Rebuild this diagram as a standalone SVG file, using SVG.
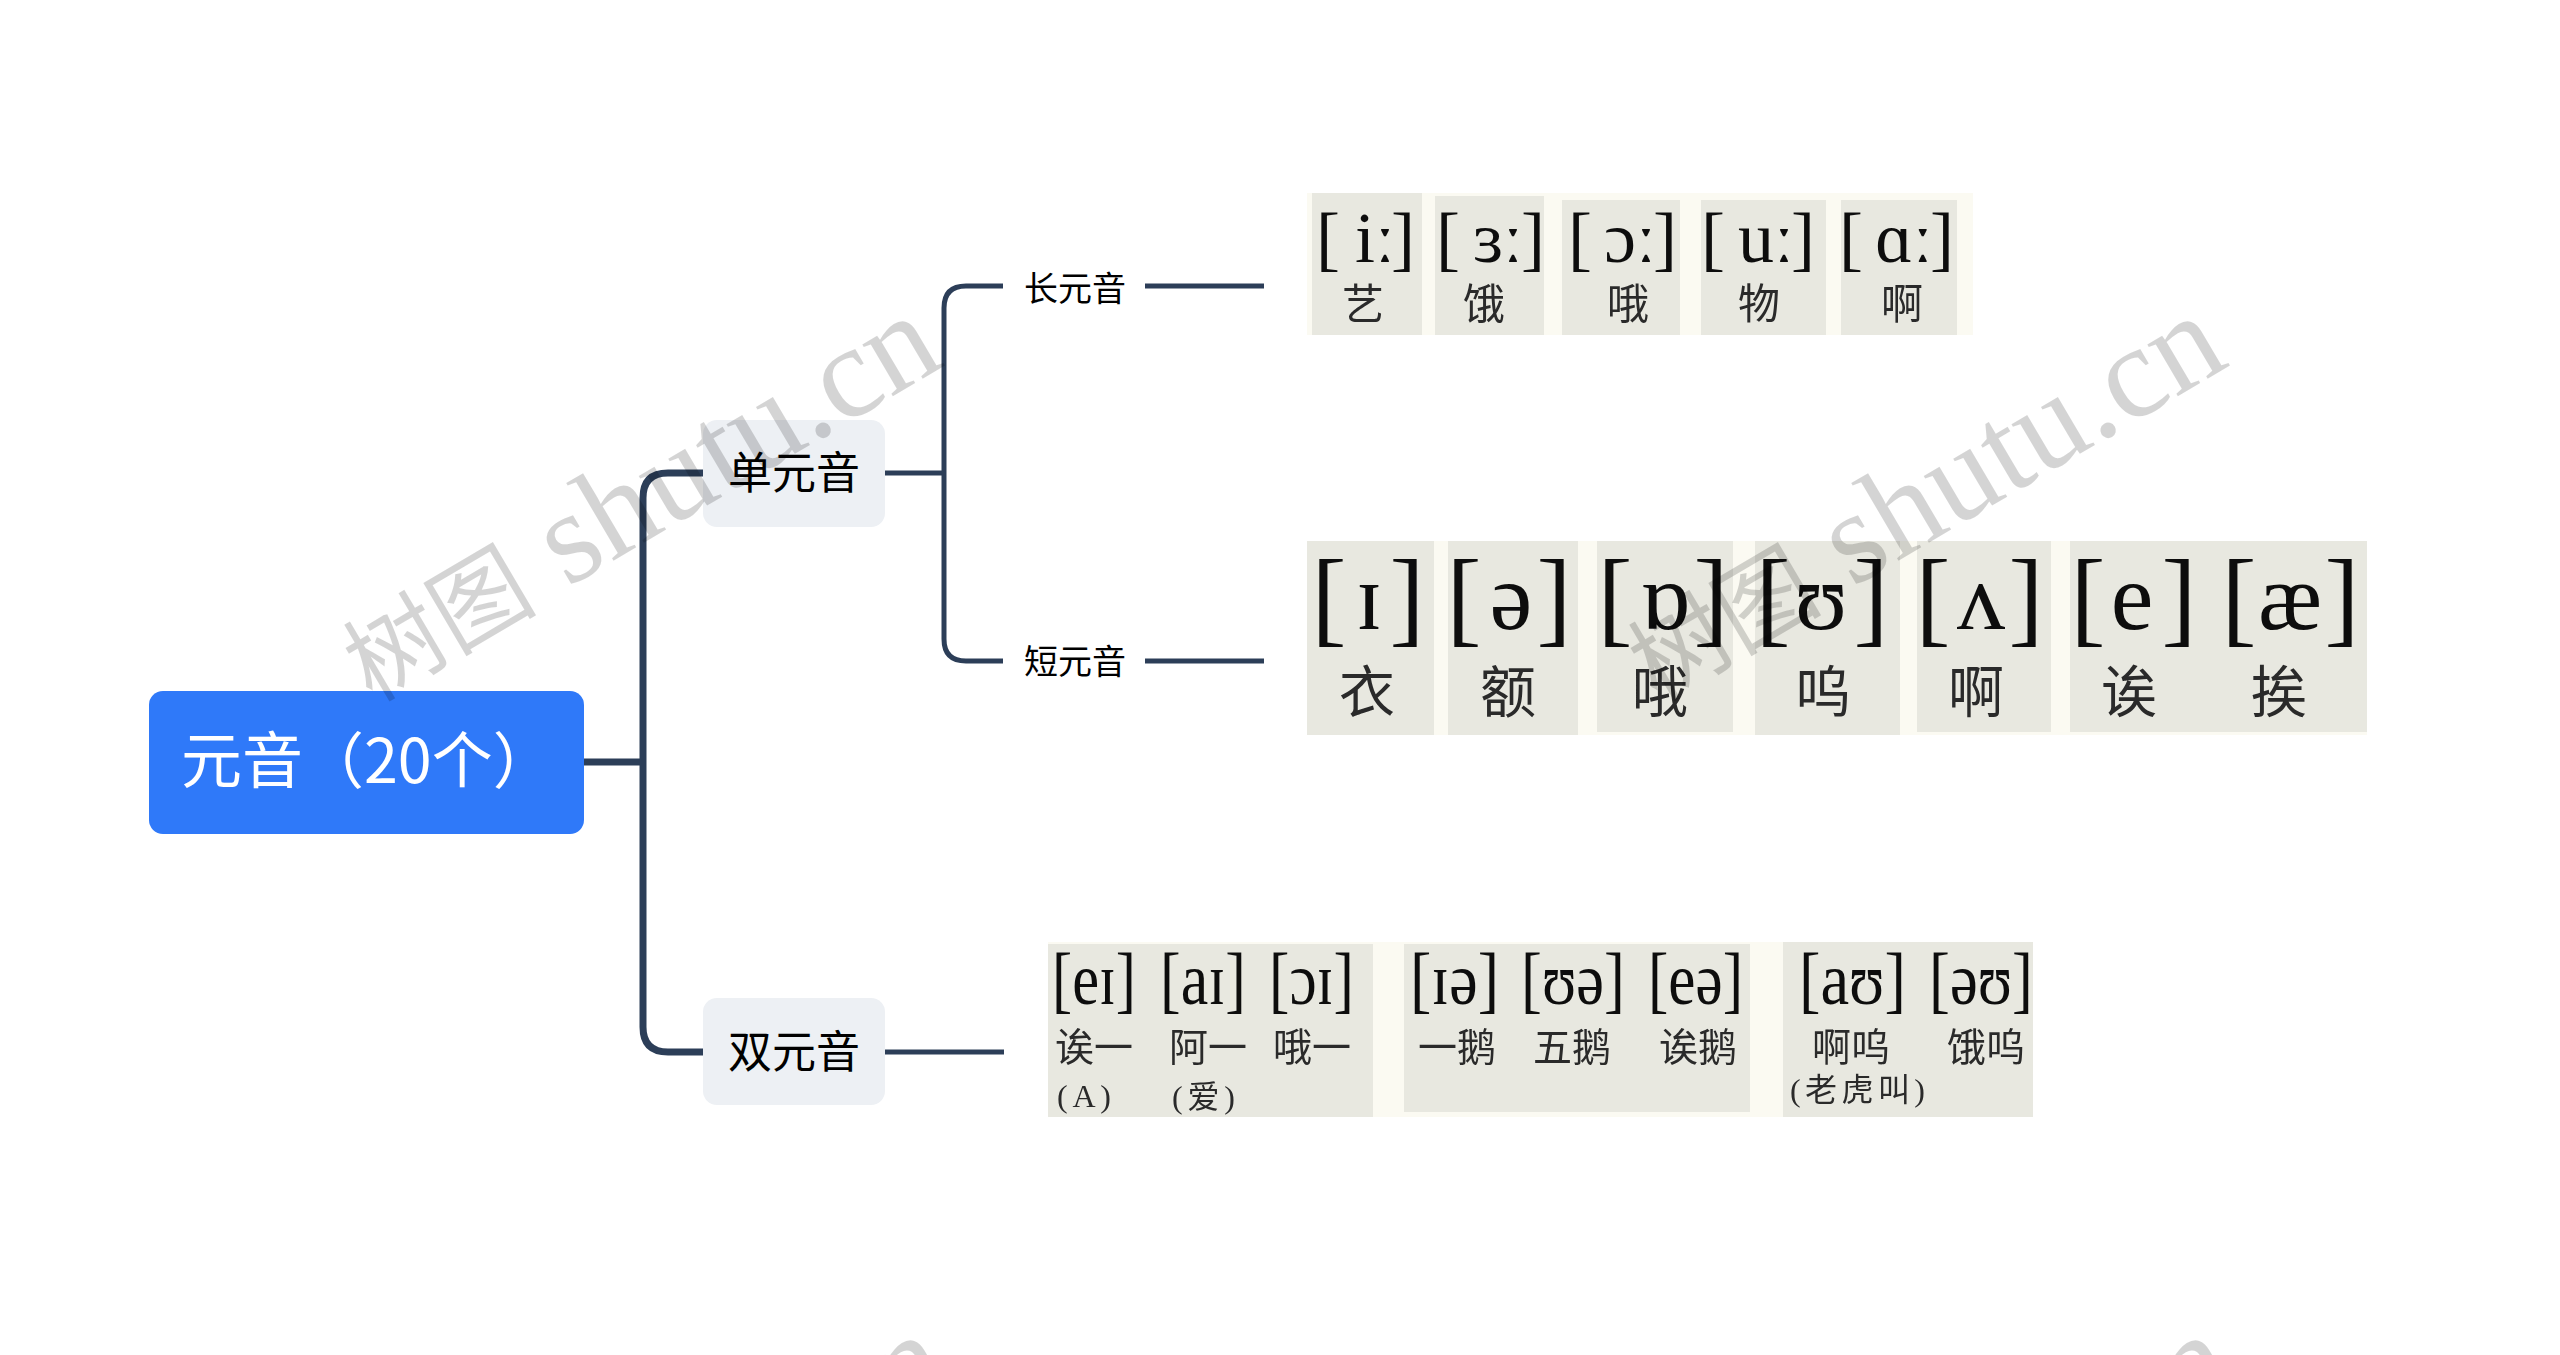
<svg xmlns="http://www.w3.org/2000/svg" width="2560" height="1355" viewBox="0 0 2560 1355">
<defs><filter id="soft" x="-2%" y="-2%" width="104%" height="104%"><feGaussianBlur stdDeviation="0.7"/></filter></defs>
<style>
text{font-family:"Noto Sans CJK SC","Noto Sans",sans-serif}
.lv1{fill:none;stroke:#2c3e58;stroke-width:7}
.lv2{fill:none;stroke:#2c3e58;stroke-width:5}
.sub{fill:#edf0f4}
.l1{font-size:44px;fill:#000;text-anchor:middle}
.l2{font-size:34px;fill:#000;text-anchor:middle}
.cream{fill:#fbfaf2}
.cell{fill:#e8e8e0}
.ipa text{font-family:"Liberation Serif","DejaVu Serif",serif;fill:#111}
.a{font-size:72px;text-anchor:middle}
.b{font-size:105px;text-anchor:middle}
.d{font-size:96px;text-anchor:middle}
.c{font-size:73px}
.ipa text.z{font-family:"Noto Sans CJK SC",sans-serif;fill:#2b2b2b;text-anchor:middle}
.z1{font-size:42px}.z2{font-size:56px}.z3{font-size:39px}
.ipa text.z4{font-family:"Liberation Serif","Noto Sans CJK SC",serif;font-size:32px;fill:#2b2b2b}
.wm{font-family:"Liberation Serif","Noto Sans CJK SC",serif;font-size:131px;fill:#000;fill-opacity:.17}
.wm .h{font-family:"Noto Sans CJK SC",serif;font-size:97px}
</style>
<rect width="2560" height="1355" fill="#fff"/>
<g id="connectors">
<path class="lv1" d="M584 762H643"/>
<path class="lv1" d="M703 473H668Q643 473 643 498V1027Q643 1052 668 1052H703"/>
<path class="lv2" d="M885 473H944"/>
<path class="lv2" d="M1003 286H966Q944 286 944 308V639Q944 661 966 661H1003"/>
<path class="lv2" d="M1145 286H1264"/>
<path class="lv2" d="M1145 661H1264"/>
<path class="lv2" d="M885 1052H1004"/>
</g>
<g id="root"><rect x="149" y="691" width="435" height="143" rx="14" fill="#2f79f9"/>
<text x="181" y="783" font-size="61" fill="#fff">元音（20个）</text></g>
<g id="n-single"><rect class="sub" x="703" y="420" width="182" height="107" rx="14"/><text class="l1" x="794" y="489">单元音</text></g>
<g id="n-double"><rect class="sub" x="703" y="998" width="182" height="107" rx="14"/><text class="l1" x="794" y="1068">双元音</text></g>
<g id="n-long"><text class="l2" x="1075" y="301">长元音</text></g>
<g id="n-short"><text class="l2" x="1075" y="674">短元音</text></g>
<g id="n-long-ipa" class="ipa" filter="url(#soft)">
<rect class="cream" x="1307" y="193" width="666" height="142"/>
<rect class="cell" x="1312" y="193" width="110" height="142"/><rect class="cell" x="1435" y="196" width="109" height="139"/><rect class="cell" x="1562" y="200" width="118" height="135"/><rect class="cell" x="1701" y="200" width="125" height="135"/><rect class="cell" x="1841" y="200" width="116" height="135"/>
<text class="a" x="1328" y="262">[</text><text class="a" x="1403" y="262">]</text><text class="a" x="1375" y="262">iː</text><text class="z z1" x="1363" y="319">艺</text>
<text class="a" x="1448" y="262">[</text><text class="a" x="1533" y="262">]</text><text class="a" x="1498" y="262">ɜː</text><text class="z z1" x="1484" y="319">饿</text>
<text class="a" x="1580" y="262">[</text><text class="a" x="1665" y="262">]</text><text class="a" x="1630" y="262">ɔː</text><text class="z z1" x="1628" y="319">哦</text>
<text class="a" x="1713" y="262">[</text><text class="a" x="1803" y="262">]</text><text class="a" x="1766" y="262">uː</text><text class="z z1" x="1759" y="319">物</text>
<text class="a" x="1851" y="262">[</text><text class="a" x="1942" y="262">]</text><text class="a" x="1904" y="262">ɑː</text><text class="z z1" x="1902" y="319">啊</text>
</g>
<g id="n-short-ipa" class="ipa" filter="url(#soft)">
<rect class="cream" x="1307" y="541" width="1060" height="194"/>
<rect class="cell" x="1307" y="541" width="127" height="194"/><rect class="cell" x="1448" y="541" width="130" height="194"/><rect class="cell" x="1597" y="541" width="136" height="191"/><rect class="cell" x="1755" y="541" width="145" height="194"/><rect class="cell" x="1917" y="541" width="134" height="191"/><rect class="cell" x="2070" y="541" width="297" height="191"/>
<text class="b" x="1329" y="633">[</text><text class="b" x="1407" y="633">]</text><text class="d" x="1369" y="629">ɪ</text><text class="z z2" x="1367" y="712">衣</text>
<text class="b" x="1464" y="633">[</text><text class="b" x="1554" y="633">]</text><text class="d" x="1511" y="629">ə</text><text class="z z2" x="1508" y="712">额</text>
<text class="b" x="1615" y="633">[</text><text class="b" x="1711" y="633">]</text><text class="d" x="1665" y="629">ɒ</text><text class="z z2" x="1660" y="712">哦</text>
<text class="b" x="1773" y="633">[</text><text class="b" x="1871" y="633">]</text><text class="d" x="1821" y="629">ʊ</text><text class="z z2" x="1823" y="712">呜</text>
<text class="b" x="1933" y="633">[</text><text class="b" x="2026" y="633">]</text><text class="d" x="1981" y="629">ʌ</text><text class="z z2" x="1976" y="712">啊</text>
<text class="b" x="2088" y="633">[</text><text class="b" x="2179" y="633">]</text><text class="d" x="2132" y="629">e</text><text class="z z2" x="2129" y="712">诶</text>
<text class="b" x="2239" y="633">[</text><text class="b" x="2342" y="633">]</text><text class="d" x="2290" y="629">æ</text><text class="z z2" x="2279" y="712">挨</text>
</g>
<g id="n-double-ipa" class="ipa" filter="url(#soft)">
<rect class="cream" x="1048" y="942" width="985" height="175"/>
<rect class="cell" x="1048" y="944" width="325" height="173"/><rect class="cell" x="1404" y="944" width="346" height="168"/><rect class="cell" x="1783" y="942" width="250" height="175"/>
<text class="c" x="1052" y="1004" textLength="84" lengthAdjust="spacingAndGlyphs">[eɪ]</text>
<text class="c" x="1160" y="1004" textLength="86" lengthAdjust="spacingAndGlyphs">[aɪ]</text>
<text class="c" x="1269" y="1004" textLength="85" lengthAdjust="spacingAndGlyphs">[ɔɪ]</text>
<text class="c" x="1410" y="1004" textLength="89" lengthAdjust="spacingAndGlyphs">[ɪə]</text>
<text class="c" x="1521" y="1004" textLength="104" lengthAdjust="spacingAndGlyphs">[ʊə]</text>
<text class="c" x="1648" y="1004" textLength="95" lengthAdjust="spacingAndGlyphs">[eə]</text>
<text class="c" x="1799" y="1004" textLength="107" lengthAdjust="spacingAndGlyphs">[aʊ]</text>
<text class="c" x="1929" y="1004" textLength="104" lengthAdjust="spacingAndGlyphs">[əʊ]</text>
<text class="z z3" x="1094" y="1061">诶一</text><text class="z z3" x="1208" y="1061">阿一</text><text class="z z3" x="1312" y="1061">哦一</text>
<text class="z z3" x="1457" y="1061">一鹅</text><text class="z z3" x="1572" y="1061">五鹅</text><text class="z z3" x="1698" y="1061">诶鹅</text>
<text class="z z3" x="1851" y="1061">啊呜</text><text class="z z3" x="1986" y="1061">饿呜</text>
<text class="z4" x="1057" y="1107" textLength="54" lengthAdjust="spacing">(A)</text>
<text class="z4" x="1172" y="1108" textLength="63" lengthAdjust="spacing">(爱)</text>
<text class="z4" x="1790" y="1101" textLength="135" lengthAdjust="spacing">(老虎叫)</text>
</g>
<g id="watermark">
<text class="wm" transform="translate(372 703) rotate(-30.5)"><tspan class="h">树图</tspan> shutu.cn</text>
<text class="wm" transform="translate(1657 703) rotate(-30.5)"><tspan class="h">树图</tspan> shutu.cn</text>
<text class="wm" transform="translate(380 1722) rotate(-30.5)"><tspan class="h">树图</tspan> shutu.cn</text>
<text class="wm" transform="translate(1665 1722) rotate(-30.5)"><tspan class="h">树图</tspan> shutu.cn</text>
</g>
</svg>
